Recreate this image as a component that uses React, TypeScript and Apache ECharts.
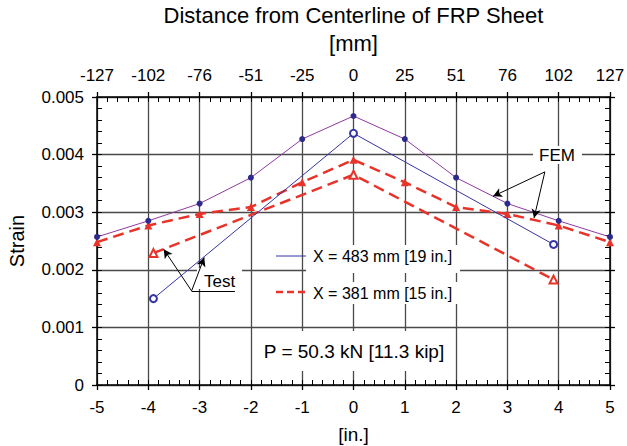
import React, { useEffect, useRef } from "react";
import * as echarts from "echarts";

const inchPositions = [-5, -4, -3, -2, -1, 0, 1, 2, 3, 4, 5];
const xBottomLabels = ["-5", "-4", "-3", "-2", "-1", "0", "1", "2", "3", "4", "5"];
const xTopLabels = ["-127", "-102", "-76", "-51", "-25", "0", "25", "51", "76", "102", "127"];
const yTickLabels = ["0", "0.001", "0.002", "0.003", "0.004", "0.005"];

const femX483 = [0.00257, 0.00285, 0.00315, 0.0036, 0.00427, 0.00467, 0.00427, 0.0036, 0.00315, 0.00285, 0.00257];
const femX381 = [0.00248, 0.00277, 0.00297, 0.00309, 0.00352, 0.00391, 0.00352, 0.00309, 0.00297, 0.00277, 0.00248];
const testPositions = [-3.9, 0, 3.9];
const testX483 = [0.0015, 0.00437, 0.00244];
const testX381 = [0.00229, 0.00365, 0.00183];

// annotation leaders in data units: [fromX, fromY, toX, toY]
const testArrows = [
  [-3.156, 0.001634, -3.70, 0.002357],
  [-3.156, 0.001634, -2.91, 0.002213],
];
const femArrows = [
  [3.73, 0.0037, 2.72, 0.003276],
  [3.73, 0.0037, 3.52, 0.0029],
];
const testUnderline = [-3.156, 0.001634, -2.312, 0.001634];

const FONT = "Liberation Sans";

export default function App() {
  const ref = useRef<HTMLDivElement>(null);
  useEffect(() => {
    if (!ref.current) return;
    const chart = echarts.init(ref.current, undefined, { renderer: "svg" });
    const gridLine = { show: true, lineStyle: { color: "#4a4a4a", width: 1.3 } };
    const axisLine = { show: true, onZero: false, lineStyle: { color: "#000", width: 1.5 } };
    const innerTick = { show: true, inside: true, length: 5, lineStyle: { color: "#000", width: 1 } };
    const minorTick = { show: true, splitNumber: 5, length: 5, lineStyle: { color: "#000", width: 1 } };
    const baseX = { type: "value", min: -5, max: 5, interval: 1 };
    const baseY = { type: "value", min: 0, max: 0.005, interval: 0.001 };
    const outerTicks = {
      axisLine: { show: false, onZero: false },
      axisTick: { show: true, inside: false, length: 5, lineStyle: { color: "#000", width: 1.3 } },
      axisLabel: { show: false },
      splitLine: { show: false },
      minorTick: { show: false },
    };
    const arrowData = (arr: number[][]) =>
      arr.map((a) => [{ coord: [a[0], a[1]] }, { coord: [a[2], a[3]] }]);

    const option: any = {
      animation: false,
      textStyle: { fontFamily: FONT },
      grid: { left: 97, right: 17, top: 97, bottom: 61, containLabel: false, outerBoundsMode: "none" },
      xAxis: [
        {
          ...baseX,
          position: "bottom",
          axisLine,
          axisTick: innerTick,
          minorTick,
          splitLine: gridLine,
          axisLabel: {
            fontSize: 17, color: "#000", margin: 14, fontFamily: FONT,
            formatter: (v: number) => xBottomLabels[inchPositions.indexOf(Math.round(v))] ?? "",
          },
          name: "[in.]",
          nameLocation: "middle",
          nameGap: 40,
          nameTextStyle: { fontSize: 19, color: "#000", fontFamily: FONT },
        },
        {
          ...baseX,
          position: "top",
          axisLine,
          axisTick: innerTick,
          minorTick,
          splitLine: { show: false },
          axisLabel: {
            fontSize: 17, color: "#000", margin: 13, fontFamily: FONT,
            formatter: (v: number) => xTopLabels[inchPositions.indexOf(Math.round(v))] ?? "",
          },
          name: "Distance from Centerline of FRP Sheet\n[mm]",
          nameLocation: "middle",
          nameGap: 40,
          nameTextStyle: { fontSize: 22, color: "#000", fontFamily: FONT, lineHeight: 28, align: "center" },
        },
        { ...baseX, position: "bottom", ...outerTicks },
        { ...baseX, position: "top", ...outerTicks },
      ],
      yAxis: [
        {
          ...baseY,
          position: "left",
          axisLine,
          axisTick: innerTick,
          minorTick,
          splitLine: gridLine,
          axisLabel: {
            fontSize: 17, color: "#000", margin: 13, fontFamily: FONT,
            formatter: (v: number, i: number) => yTickLabels[i] ?? "",
          },
          name: "Strain",
          nameLocation: "middle",
          nameGap: 70,
          nameTextStyle: { fontSize: 20, color: "#000", fontFamily: FONT },
        },
        {
          ...baseY,
          position: "right",
          axisLine,
          axisTick: innerTick,
          minorTick,
          splitLine: { show: false },
          axisLabel: { show: false },
        },
        { ...baseY, position: "left", ...outerTicks },
        { ...baseY, position: "right", ...outerTicks },
      ],
      series: [
        {
          name: "FEM X = 483 mm",
          type: "line",
          data: inchPositions.map((x, i) => [x, femX483[i]]),
          lineStyle: { color: "#8f3aa0", width: 1 },
          symbol: "circle",
          symbolSize: 6,
          itemStyle: { color: "#2c2a8c" },
          z: 4,
        },
        {
          name: "FEM X = 381 mm",
          type: "line",
          data: inchPositions.map((x, i) => [x, femX381[i]]),
          lineStyle: { color: "#e8332a", width: 2.5, type: [11, 6] },
          symbol: "triangle",
          symbolSize: 8,
          itemStyle: { color: "#e8332a" },
          z: 3,
        },
        {
          name: "Test X = 483 mm",
          type: "line",
          data: testPositions.map((x, i) => [x, testX483[i]]),
          lineStyle: { color: "#3535a5", width: 1 },
          symbol: "emptyCircle",
          symbolSize: 7,
          itemStyle: { color: "#3535a5", borderWidth: 1 },
          z: 4,
        },
        {
          name: "Test X = 381 mm",
          type: "line",
          data: testPositions.map((x, i) => [x, testX381[i]]),
          lineStyle: { color: "#e8332a", width: 2.5, type: [11, 6] },
          symbol: "emptyTriangle",
          symbolSize: 8,
          itemStyle: { color: "#e8332a", borderWidth: 1 },
          z: 3,
        },
        {
          name: "annotations",
          type: "line",
          data: [],
          silent: true,
          markLine: {
            silent: true,
            symbol: ["none", "arrow"],
            symbolSize: [7, 9],
            label: { show: false },
            emphasis: { disabled: true },
            lineStyle: { color: "#000", width: 1, type: "solid" },
            data: [...arrowData(testArrows), ...arrowData(femArrows)],
          },
          z: 6,
        },
        {
          name: "underline",
          type: "line",
          data: [],
          silent: true,
          markLine: {
            silent: true,
            symbol: ["none", "none"],
            label: { show: false },
            emphasis: { disabled: true },
            lineStyle: { color: "#000", width: 1, type: "solid" },
            data: [[{ coord: [testUnderline[0], testUnderline[1]] }, { coord: [testUnderline[2], testUnderline[3]] }]],
          },
          z: 6,
        },
      ],
      graphic: [
        { type: "rect", z: 2, shape: { x: 533, y: 146, width: 49, height: 18 }, style: { fill: "#fff" } },
        { type: "text", z: 3, x: 557, y: 155, style: { text: "FEM", fontSize: 17, fontFamily: FONT, fill: "#000", align: "center", verticalAlign: "middle" } },
        { type: "rect", z: 2, shape: { x: 197, y: 268, width: 45, height: 21 }, style: { fill: "#fff" } },
        { type: "text", z: 3, x: 204, y: 281, style: { text: "Test", fontSize: 17, fontFamily: FONT, fill: "#000", align: "left", verticalAlign: "middle" } },
        { type: "rect", z: 2, shape: { x: 306, y: 245, width: 154, height: 28 }, style: { fill: "#fff" } },
        { type: "rect", z: 2, shape: { x: 306, y: 282, width: 154, height: 22 }, style: { fill: "#fff" } },
        { type: "line", z: 3, shape: { x1: 276, y1: 256, x2: 306, y2: 256 }, style: { stroke: "#3535a5", lineWidth: 1 } },
        { type: "line", z: 3, shape: { x1: 276, y1: 292, x2: 306, y2: 292 }, style: { stroke: "#e8332a", lineWidth: 2.5, lineDash: [7, 4] } },
        { type: "text", z: 3, x: 313, y: 256, style: { text: "X = 483 mm [19 in.]", fontSize: 16, fontFamily: FONT, fill: "#000", align: "left", verticalAlign: "middle" } },
        { type: "text", z: 3, x: 313, y: 293, style: { text: "X = 381 mm [15 in.]", fontSize: 16, fontFamily: FONT, fill: "#000", align: "left", verticalAlign: "middle" } },
        { type: "rect", z: 2, shape: { x: 255, y: 331, width: 199, height: 40 }, style: { fill: "#fff" } },
        { type: "text", z: 3, x: 354, y: 351, style: { text: "P = 50.3 kN [11.3 kip]", fontSize: 19, fontFamily: FONT, fill: "#000", align: "center", verticalAlign: "middle" } },
      ],
    };
    chart.setOption(option);
    return () => chart.dispose();
  }, []);
  return (
    <div
      ref={ref}
      style={{ position: "fixed", left: 0, top: 0, width: 627, height: 446, background: "#fff" }}
    />
  );
}
